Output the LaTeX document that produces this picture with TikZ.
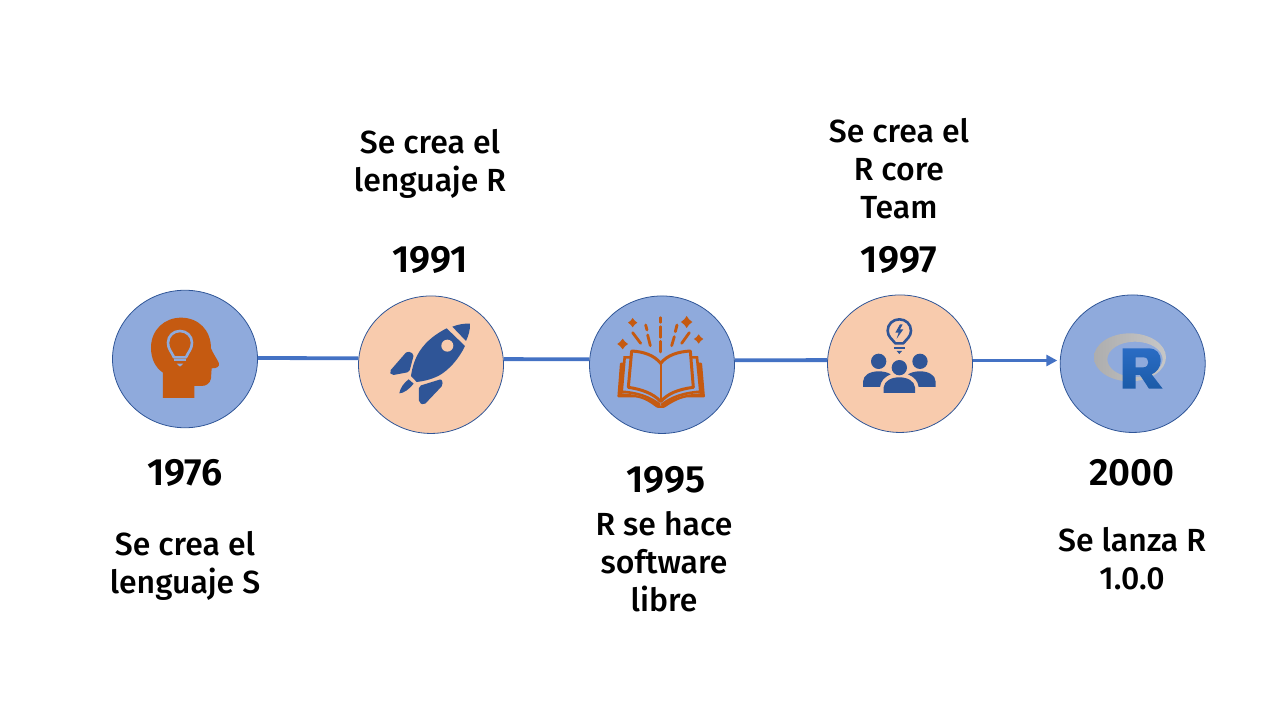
\documentclass[tikz,border=0pt]{standalone}
\usepackage{fontspec}
\setmainfont{Fira Sans}
\newfontfamily\descfont{Fira Sans Medium}
\newfontfamily\yearfont{Fira Sans SemiBold}
\usetikzlibrary{shapes.geometric,arrows.meta,calc}
\definecolor{cblue}{HTML}{8FAADC}
\definecolor{cpeach}{HTML}{F8CBAD}
\definecolor{edgeb}{HTML}{2F5597}
\definecolor{lineb}{HTML}{4472C4}
\definecolor{orng}{HTML}{C55A11}
\definecolor{rtop}{HTML}{2A6CC4}
\definecolor{rbot}{HTML}{1B5BA8}
\tikzset{
 stage/.style={ellipse,draw=edgeb,line width=0.8pt,minimum width=145pt,minimum height=137.5pt,inner sep=0pt},
 link/.style={draw=lineb,line width=3.8pt},
 desc/.style={align=center,font=\descfont\fontsize{32}{38}\selectfont,text=black,inner sep=0pt},
 yearlabel/.style={font=\yearfont\fontsize{38}{38}\selectfont,text=black,inner sep=0pt},
 zoomed/.style={x=0.3333pt,y=-0.3333pt},
}
\begin{document}
\begin{tikzpicture}[x=1pt,y=-1pt]
\useasboundingbox (0,0) rectangle (1280,720);
\node[stage,fill=cblue] (c1) at (185,359) {};
\node[stage,fill=cpeach] (c2) at (431,364.7) {};
\node[stage,fill=cblue] (c3) at (662,364.7) {};
\node[stage,fill=cpeach] (c4) at (900,363.7) {};
\node[stage,fill=cblue] (c5) at (1132.7,363.7) {};
\draw[link] ([yshift=1pt]c1.east) -- ([yshift=6.4pt]c2.west);
\draw[link] ([yshift=5.6pt]c2.east) -- ([yshift=5.4pt]c3.west);
\draw[link] ([yshift=4.4pt]c3.east) -- ([yshift=3.6pt]c4.west);
\draw[link,-{Triangle[length=11pt,width=11pt]}] ([yshift=3.2pt]c4.east) -- ([yshift=3.2pt,xshift=-2.5pt]c5.west);
% head
\begin{scope}[shift={(100,280)},zoomed]
\fill[orng] (189,354) -- (189,278) .. controls (165,262) and (153,235) .. (153,203)
 .. controls (153,150) and (193,113) .. (243,113)
 .. controls (295,113) and (333,150) .. (333,205)
 .. controls (340,222) and (350,235) .. (357,250)
 .. controls (358,260) and (352,265) .. (335,265)
 -- (333,295) .. controls (331,310) and (318,318) .. (305,318)
 -- (283,318) -- (283,354) -- cycle;
\draw[cblue,line width=2.6pt,line join=round] (222,232) .. controls (215,215) and (204,208) .. (204,188)
 .. controls (204,168) and (220,153) .. (240,153)
 .. controls (260,153) and (276,168) .. (276,188)
 .. controls (276,208) and (265,215) .. (258,232) -- cycle;
\draw[cblue,line width=2pt] (222,241) -- (258,241);
\fill[cblue] (230,251) -- (250,251) -- (240,260) -- cycle;
\end{scope}
% rocket
\begin{scope}[shift={(350,280)},zoomed]
\fill[edgeb] (307,140) .. controls (325,133) and (343,130) .. (360,131) .. controls (361,150) and (355,168) .. (348,183) -- cycle;
\fill[edgeb] (290,145) -- (345,198) .. controls (325,240) and (295,270) .. (270,285)
 .. controls (248,297) and (225,303) .. (200,306) -- (183,288)
 .. controls (187,260) and (195,235) .. (210,212) .. controls (230,182) and (260,160) .. (290,145) -- cycle;
\fill[cpeach] (292,197) circle[x radius=18,y radius=18];
\fill[edgeb,rounded corners=2pt] (118,275) -- (172,213) -- (192,222) -- (178,276) -- (125,286) -- cycle;
\fill[edgeb,rounded corners=2pt] (207,318) -- (275,297) -- (279,315) -- (222,375) -- (207,368) -- cycle;
\fill[edgeb] (148,340) .. controls (150,325) and (162,308) .. (176,298) -- (191,311) .. controls (178,328) and (160,340) .. (148,340) -- cycle;
\end{scope}
% book
\begin{scope}[shift={(580,280)},zoomed]
\draw[orng,line width=3pt,line join=round] (242,250) .. controls (222,225) and (190,215) .. (155,213) -- (145,322)
 .. controls (185,328) and (220,340) .. (242,365)
 .. controls (264,340) and (295,328) .. (340,322) -- (331,213)
 .. controls (295,215) and (262,225) .. (242,250) -- cycle;
\draw[orng,line width=2pt] (242,250) -- (242,365);
\draw[orng,line width=2.6pt] (150,232) -- (134,232) -- (125,335) .. controls (170,338) and (210,350) .. (240,375);
\draw[orng,line width=2.6pt] (335,232) -- (351,232) -- (361,335) .. controls (315,338) and (275,350) .. (244,375);
\fill[orng,rounded corners=1pt] (120,248) -- (112,352) -- (165,352) .. controls (195,356) and (215,372) .. (232,384)
 -- (252,384) .. controls (270,372) and (295,356) .. (322,352) -- (375,352) -- (366,248) -- (352,248) -- (362,340)
 .. controls (315,342) and (275,355) .. (242,378) .. controls (210,355) and (170,342) .. (124,340) -- (133,248) -- cycle;
\draw[orng,line width=2.8pt,line cap=round] (242,113) -- (242,127) (242,140) -- (242,172) (242,184) -- (242,216);
\draw[orng,line width=2.8pt,line cap=round] (197,135) -- (201,150) (203,165) -- (211,197);
\draw[orng,line width=2.8pt,line cap=round] (291,135) -- (286,155) (283,170) -- (275,197);
\draw[orng,line width=2.8pt,line cap=round] (158,158) -- (182,190);
\draw[orng,line width=2.8pt,line cap=round] (328,158) -- (305,190);
\fill[orng] (158,114) -- (164,122) -- (172,128) -- (164,134) -- (158,142) -- (152,134) -- (144,128) -- (152,122) -- cycle;
\fill[orng] (128,176) -- (135,185) -- (144,192) -- (135,199) -- (128,208) -- (121,199) -- (112,192) -- (121,185) -- cycle;
\fill[orng] (320,108) -- (327,118) -- (337,126) -- (327,134) -- (320,144) -- (313,134) -- (303,126) -- (313,118) -- cycle;
\fill[orng] (356,163) -- (362,171) -- (370,177) -- (362,183) -- (356,191) -- (350,183) -- (342,177) -- (350,171) -- cycle;
\end{scope}
% team
\begin{scope}[shift={(820,280)},zoomed]
\draw[edgeb,line width=2.6pt,line join=round] (226,190) .. controls (217,178) and (203,170) .. (203,152)
 .. controls (203,132) and (219,118) .. (238,118)
 .. controls (257,118) and (273,132) .. (273,152)
 .. controls (273,170) and (259,178) .. (250,190) -- cycle;
\draw[edgeb,line width=2pt] (222,204) -- (254,204);
\fill[edgeb] (230,213) -- (246,213) -- (238,222) -- cycle;
\fill[edgeb] (240,133) -- (226,158) -- (236,158) -- (230,176) -- (250,148) -- (240,148) -- (248,133) -- cycle;
\fill[edgeb] (176,244) circle[x radius=23,y radius=23];
\fill[edgeb] (300,244) circle[x radius=23,y radius=23];
\fill[edgeb] (238,263) circle[x radius=23,y radius=23];
\fill[edgeb] (129,321) -- (129,305) .. controls (130,285) and (150,274) .. (176,274)
 .. controls (190,274) and (203,277) .. (212,283)
 .. controls (195,290) and (182,302) .. (180,321) -- cycle;
\fill[edgeb] (347,321) -- (347,305) .. controls (346,285) and (326,274) .. (300,274)
 .. controls (286,274) and (273,277) .. (264,283)
 .. controls (281,290) and (294,302) .. (296,321) -- cycle;
\fill[edgeb] (191,339) -- (191,322) .. controls (193,303) and (213,292) .. (238,292)
 .. controls (263,292) and (283,303) .. (285,322) -- (285,339) -- cycle;
\end{scope}
% R logo
\begin{scope}[shift={(1040,280)},zoomed]
\shade[even odd rule,left color=black!32,right color=black!22]
 (270,232) ellipse[x radius=108,y radius=72] (285,238) ellipse[x radius=83,y radius=53];
\shade[even odd rule,top color=rtop,bottom color=rbot]
 (248,205) -- (325,205) .. controls (350,205) and (362,220) .. (362,243)
 .. controls (362,262) and (350,277) .. (335,283) -- (368,326) -- (327,326) -- (300,285) -- (287,285) -- (287,326) -- (248,326) -- cycle
 (287,232) -- (287,262) -- (310,262) .. controls (320,262) and (325,255) .. (325,247) .. controls (325,238) and (320,232) .. (310,232) -- cycle;
\end{scope}
% labels
\node[yearlabel] (y1) at (185,473) {1976};
\node[desc] (d1) at (185,566) {Se crea el\\lenguaje S};
\node[desc] (d2) at (430,164) {Se crea el\\lenguaje R};
\node[yearlabel] (y2) at (430,260) {1991};
\node[yearlabel] (y3) at (666,480) {1995};
\node[desc] (d3) at (664,562) {R se hace\\software\\libre};
\node[desc] (d4) at (899,169) {Se crea el\\R core\\Team};
\node[yearlabel] (y4) at (899,260) {1997};
\node[yearlabel] (y5) at (1132,473) {2000};
\node[desc] (d5) at (1132,559) {Se lanza R\\1.0.0};
\end{tikzpicture}
\end{document}
